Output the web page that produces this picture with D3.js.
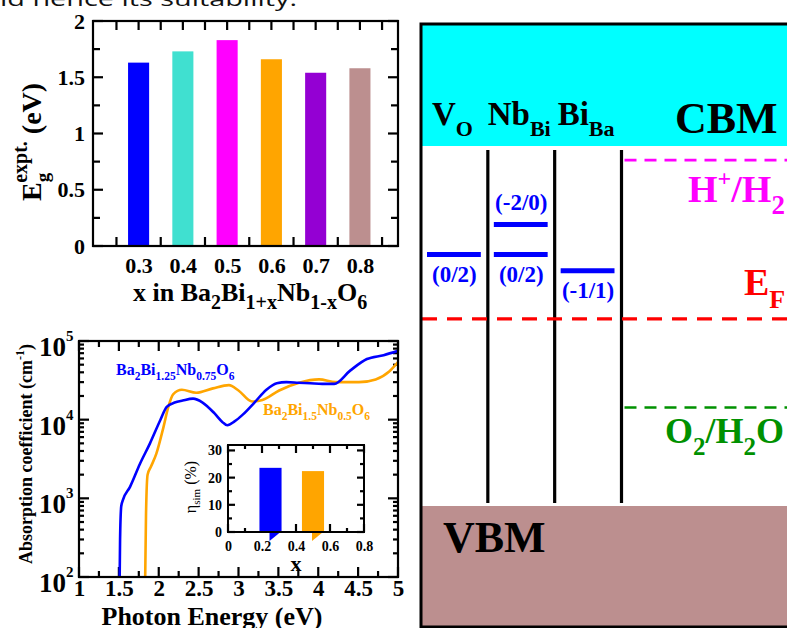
<!DOCTYPE html>
<html>
<head>
<meta charset="utf-8">
<script src="https://cdn.jsdelivr.net/npm/d3@7"></script>
<style>
  html, body { margin: 0; padding: 0; background: #fff; }
  svg { display: block; }
  text { font-family: "Liberation Serif", "DejaVu Serif", serif; font-weight: bold; }
</style>
</head>
<body>
<svg id="fig" width="787" height="628"></svg>
<script>
// ---------- data ----------
// Panel (a): experimental band gaps of Ba2Bi(1+x)Nb(1-x)O6
const barX = [0.3, 0.4, 0.5, 0.6, 0.7, 0.8];
const barEg = [1.63, 1.73, 1.83, 1.66, 1.54, 1.58];
const barColors = ["#0000ff", "#40e0d0", "#ff00ff", "#ffa500", "#9400d3", "#bc8f8f"];
const egTicks = [0, 0.5, 1, 1.5, 2];

// Panel (b): absorption spectra (photon energy in eV, alpha in cm^-1)
const energyBlue = [1.51, 1.515, 1.53, 1.55, 1.64, 1.765, 1.89, 2.02, 2.10, 2.20, 2.30, 2.43, 2.55, 2.70, 2.80, 2.86, 2.95, 3.05, 3.20, 3.35, 3.48, 3.60, 3.75, 3.90, 4.05, 4.20, 4.40, 4.61, 4.82, 5.00];
const alphaBlue  = [100, 300, 800, 950, 1400, 2750, 5000, 9900, 14500, 16500, 17500, 18500, 16500, 12000, 9300, 8500, 9500, 11500, 16500, 24000, 29000, 30000, 29500, 29000, 28500, 28500, 42000, 59000, 66000, 75000];
const energyOrange = [1.83, 1.84, 1.86, 1.90, 1.97, 2.06, 2.12, 2.18, 2.29, 2.47, 2.68, 2.88, 3.00, 3.17, 3.30, 3.51, 3.76, 4.01, 4.22, 4.51, 4.72, 4.89, 5.00];
const alphaOrange  = [100, 600, 2000, 2500, 3700, 8100, 14500, 21000, 24000, 22000, 25000, 27500, 23500, 17000, 17800, 23500, 29500, 32500, 30000, 30000, 32500, 41000, 54000];
const energyTicks = [1, 1.5, 2, 2.5, 3, 3.5, 4, 4.5, 5];
const alphaTicks = [1e2, 1e3, 1e4, 1e5];

// Inset: simulated efficiency
const insetX = [0.25, 0.5];
const insetEta = [23.6, 22.4];
const insetColors = ["#0000ff", "#ffa500"];
const insetXTicks = [0, 0.2, 0.4, 0.6, 0.8];
const insetYTicks = [0, 10, 20, 30];

// Panel (c): defect levels and redox potentials (eV above the VBM)
const bandGap = 1.79;
const fermiLevel = 0.93;
const defectNames = ["VO", "NbBi", "BiBa"];
const levelDefect = ["VO", "NbBi", "NbBi", "BiBa"];
const levelEnergy = [1.25, 1.40, 1.25, 1.17];
const levelCharge = ["(0/2)", "(-2/0)", "(0/2)", "(-1/1)"];
const levelLabelAbove = [false, true, false, false];
const redoxEnergy = [1.72, 0.49];

// ---------- helpers ----------
const svg = d3.select("#fig");

// writes a run of [text, kind, dx] parts into a text node; kind is "", "sub" or "sup"
function rich(sel, parts, fs, opts = {}) {
  const subFs = opts.subFs || fs * 0.65;
  const supFs = opts.supFs || fs * 0.65;
  const subShift = opts.subShift != null ? opts.subShift : fs * 0.3;
  const supShift = opts.supShift != null ? opts.supShift : -fs * 0.42;
  let cur = 0;
  parts.forEach(([t, k, dx]) => {
    const target = k === "sub" ? subShift : k === "sup" ? supShift : 0;
    const ts = sel.append("tspan")
      .attr("dy", target - cur)
      .attr("font-size", k === "sub" ? subFs : k === "sup" ? supFs : fs)
      .text(t);
    if (dx) ts.attr("dx", dx);
    cur = target;
  });
  return sel;
}

// inward tick marks along one side of a frame
function tickMarks(g, vals, scale, side, at, len) {
  g.append("g").selectAll("line").data(vals).join("line")
    .attr("x1", d => side === "left" || side === "right" ? at : scale(d))
    .attr("x2", d => side === "left" ? at + len : side === "right" ? at - len : scale(d))
    .attr("y1", d => side === "top" || side === "bottom" ? at : scale(d))
    .attr("y2", d => side === "top" ? at + len : side === "bottom" ? at - len : scale(d))
    .attr("stroke", "#000").attr("stroke-width", 2.2);
}

function styleLabels(s, fs) {
  s.select(".domain").remove();
  s.selectAll("text").attr("font-size", fs).attr("fill", "#000")
    .style("font-family", "Liberation Serif, serif").style("font-weight", "bold");
}

// ---------- cut-off line of running text ----------
svg.append("text")
  .attr("x", 0).attr("y", 6)
  .style("font-family", "'Open Sans', sans-serif").style("font-weight", "normal")
  .attr("font-size", 20).attr("fill", "#111")
  .attr("textLength", 297).attr("lengthAdjust", "spacingAndGlyphs")
  .text("ld hence its suitability.");

// ---------- panel (a): band gap bars ----------
const xBar = d3.scaleLinear().domain([0.197, 0.886]).range([93, 398]);
const yEg = d3.scaleLinear().domain([0, 2]).range([246, 21]);
const gA = svg.append("g");

const egMinor = [0.25, 0.75, 1.25, 1.75];
tickMarks(gA, egMinor, yEg, "left", 93, 7);
tickMarks(gA, egTicks, yEg, "left", 93, 10);
tickMarks(gA, egMinor, yEg, "right", 398, 7);
tickMarks(gA, egTicks, yEg, "right", 398, 10);
const xMinorA = [0.25, 0.35, 0.45, 0.55, 0.65, 0.75, 0.85];
tickMarks(gA, xMinorA, xBar, "top", 21, 9);
tickMarks(gA, barX, xBar, "top", 21, 9);
tickMarks(gA, xMinorA, xBar, "bottom", 246, 9);

const barHalf = (xBar(0.3 + 0.0238) - xBar(0.3));
gA.selectAll("rect.bar").data(barX).join("rect")
  .attr("class", "bar")
  .attr("x", d => xBar(d) - barHalf)
  .attr("width", barHalf * 2)
  .attr("y", (d, i) => yEg(barEg[i]))
  .attr("height", (d, i) => yEg(0) - yEg(barEg[i]))
  .attr("fill", (d, i) => barColors[i]);

gA.append("rect").attr("x", 93).attr("y", 21).attr("width", 305).attr("height", 225)
  .attr("fill", "none").attr("stroke", "#000").attr("stroke-width", 2.2);

gA.append("g").attr("transform", "translate(93,0)")
  .call(d3.axisLeft(yEg).tickValues(egTicks).tickSize(0).tickPadding(8).tickFormat(d3.format("~g")))
  .call(s => styleLabels(s, 22));

gA.append("g").attr("transform", "translate(0,246)")
  .call(d3.axisBottom(xBar).tickValues(barX).tickSize(0).tickPadding(11).tickFormat(d3.format(".1f")))
  .call(s => styleLabels(s, 22));

rich(gA.append("text").attr("x", 133).attr("y", 301),
  [["x in Ba", ""], ["2", "sub"], ["Bi", ""], ["1+x", "sub"], ["Nb", ""], ["1-x", "sub"], ["O", ""], ["6", "sub"]],
  26, { subFs: 20, subShift: 8 });

rich(gA.append("text").attr("transform", "translate(41,201) rotate(-90)"),
  [["E", ""], ["g", "sub"], ["expt.", "sup", -10], [" (eV)", ""]],
  28, { subFs: 19, supFs: 20, subShift: 8, supShift: -14 });

// ---------- panel (b): absorption coefficient ----------
const xE = d3.scaleLinear().domain([1, 5]).range([79, 398]);
const yA = d3.scaleLog().domain([1e2, 1e5]).range([577, 341]);
const gB = svg.append("g");

const minorAlpha = [];
[1e2, 1e3, 1e4].forEach(dec => d3.range(2, 10).forEach(m => minorAlpha.push(dec * m)));
tickMarks(gB, minorAlpha, yA, "left", 79, 5);
tickMarks(gB, alphaTicks, yA, "left", 79, 10);
tickMarks(gB, minorAlpha, yA, "right", 398, 5);
tickMarks(gB, alphaTicks, yA, "right", 398, 10);
const minorE = d3.range(1.25, 5, 0.5);
tickMarks(gB, minorE, xE, "bottom", 577, 6);
tickMarks(gB, energyTicks, xE, "bottom", 577, 10);
tickMarks(gB, minorE, xE, "top", 341, 6);
tickMarks(gB, energyTicks, xE, "top", 341, 10);

gB.append("clipPath").attr("id", "clipB")
  .append("rect").attr("x", 79).attr("y", 341).attr("width", 319).attr("height", 236);

const lineE = (es, as) => d3.line()
  .x((d, i) => xE(es[i])).y((d, i) => yA(as[i]))
  .curve(d3.curveMonotoneX)(es);

gB.append("path").attr("d", lineE(energyOrange, alphaOrange))
  .attr("fill", "none").attr("stroke", "#ffa500").attr("stroke-width", 2.6)
  .attr("clip-path", "url(#clipB)");
gB.append("path").attr("d", lineE(energyBlue, alphaBlue))
  .attr("fill", "none").attr("stroke", "#0000ff").attr("stroke-width", 2.6)
  .attr("clip-path", "url(#clipB)");

gB.append("rect").attr("x", 79).attr("y", 341).attr("width", 319).attr("height", 236)
  .attr("fill", "none").attr("stroke", "#000").attr("stroke-width", 2.2);

gB.append("g").attr("transform", "translate(0,577)")
  .call(d3.axisBottom(xE).tickValues(energyTicks).tickSize(0).tickPadding(3).tickFormat(d3.format("~g")))
  .call(s => styleLabels(s, 23));

alphaTicks.forEach(v => {
  rich(gB.append("text").attr("x", 39).attr("y", yA(v) + 15),
    [["10", ""], [String(Math.round(Math.log10(v))), "sup"]],
    27, { supFs: 15, supShift: -15 });
});

gB.append("text").attr("x", 212).attr("y", 625).attr("text-anchor", "middle")
  .attr("font-size", 26).text("Photon Energy (eV)");

rich(gB.append("text").attr("transform", "translate(32,454) rotate(-90)").attr("text-anchor", "middle"),
  [["Absorption coefficient (cm", ""], ["-1", "sup"], [")", ""]],
  18, { supFs: 12, supShift: -8 });

rich(gB.append("text").attr("x", 116).attr("y", 375).attr("fill", "#0000ff"),
  [["Ba", ""], ["2", "sub"], ["Bi", ""], ["1.25", "sub"], ["Nb", ""], ["0.75", "sub"], ["O", ""], ["6", "sub"]],
  16, { subFs: 11.5, subShift: 5 });
rich(gB.append("text").attr("x", 263).attr("y", 415).attr("fill", "#ffa500"),
  [["Ba", ""], ["2", "sub"], ["Bi", ""], ["1.5", "sub"], ["Nb", ""], ["0.5", "sub"], ["O", ""], ["6", "sub"]],
  16, { subFs: 11.5, subShift: 5 });

// ---------- inset: efficiency bars ----------
const xI = d3.scaleLinear().domain([0, 0.8]).range([228, 364]);
const yI = d3.scaleLinear().domain([0, 32]).range([532, 445]);
const gI = svg.append("g");

gI.append("rect").attr("x", 228).attr("y", 445).attr("width", 136).attr("height", 87).attr("fill", "#fff");
const etaMinor = [5, 15, 25];
const xMinorI = [0.1, 0.3, 0.5, 0.7];
tickMarks(gI, etaMinor, yI, "left", 228, 4);
tickMarks(gI, insetYTicks, yI, "left", 228, 7);
tickMarks(gI, etaMinor, yI, "right", 364, 4);
tickMarks(gI, insetYTicks, yI, "right", 364, 7);
tickMarks(gI, xMinorI, xI, "bottom", 532, 4);
tickMarks(gI, insetXTicks, xI, "bottom", 532, 8);
tickMarks(gI, xMinorI, xI, "top", 445, 4);
tickMarks(gI, insetXTicks, xI, "top", 445, 8);

const insetHalf = xI(0.065) - xI(0);
gI.selectAll("rect.ibar").data(insetX).join("rect")
  .attr("class", "ibar")
  .attr("x", d => xI(d) - insetHalf)
  .attr("width", insetHalf * 2)
  .attr("y", (d, i) => yI(insetEta[i]))
  .attr("height", (d, i) => yI(0) - yI(insetEta[i]))
  .attr("fill", (d, i) => insetColors[i]);
// small wedges hanging below each bar
gI.selectAll("path.wedge").data(insetX).join("path")
  .attr("class", "wedge")
  .attr("d", d => {
    const l = xI(d) - 1, r = xI(d) + insetHalf - 1, y0 = yI(0);
    return `M${l},${y0} L${r},${y0} L${l},${y0 + 9} Z`;
  })
  .attr("fill", (d, i) => insetColors[i]);

gI.append("rect").attr("x", 228).attr("y", 445).attr("width", 136).attr("height", 87)
  .attr("fill", "none").attr("stroke", "#000").attr("stroke-width", 2);

gI.append("g").attr("transform", "translate(228,0)")
  .call(d3.axisLeft(yI).tickValues(insetYTicks).tickSize(0).tickPadding(6))
  .call(s => styleLabels(s, 14));
gI.append("g").attr("transform", "translate(0,532)")
  .call(d3.axisBottom(xI).tickValues(insetXTicks).tickSize(0).tickPadding(9).tickFormat(d3.format("~g")))
  .call(s => styleLabels(s, 14));

rich(gI.append("text").attr("transform", "translate(196,487) rotate(-90)").attr("text-anchor", "middle")
  .style("font-weight", "normal"),
  [["η", ""], ["sim", "sub"], [" (%)", ""]], 16, { subFs: 11, subShift: 4 });
gI.append("text").attr("x", 296).attr("y", 571).attr("text-anchor", "middle")
  .attr("font-size", 22).text("x");

// ---------- panel (c): defect levels ----------
const yEn = d3.scaleLinear().domain([0, bandGap]).range([506, 146]);
const xDef = d3.scaleBand().domain(defectNames).range([421, 621.5]);
const gC = svg.append("g");
const right = 800;

gC.append("rect").attr("x", 421).attr("y", 24).attr("width", right - 421).attr("height", yEn(bandGap) - 24)
  .attr("fill", "#00ffff");
gC.append("rect").attr("x", 421).attr("y", yEn(0)).attr("width", right - 421).attr("height", 627 - yEn(0))
  .attr("fill", "#bc8f8f");

// separators between defect columns
const seps = defectNames.map(d => xDef(d) + xDef.bandwidth());
gC.selectAll("line.sep").data(seps).join("line")
  .attr("x1", d => d).attr("x2", d => d)
  .attr("y1", yEn(bandGap) + 4).attr("y2", yEn(0) - 3)
  .attr("stroke", "#000").attr("stroke-width", 3.2);

// Fermi level and redox potentials
gC.append("line").attr("x1", 422).attr("x2", right).attr("y1", yEn(fermiLevel)).attr("y2", yEn(fermiLevel))
  .attr("stroke", "#ff0000").attr("stroke-width", 3.2).attr("stroke-dasharray", "15,10");
const redoxColors = ["#ff00ff", "#009100"];
gC.selectAll("line.redox").data(redoxEnergy).join("line")
  .attr("x1", seps[2] + 3).attr("x2", right)
  .attr("y1", d => yEn(d)).attr("y2", d => yEn(d))
  .attr("stroke", (d, i) => redoxColors[i]).attr("stroke-width", 2.6)
  .attr("stroke-dasharray", "12,8");

// defect transition levels
gC.selectAll("line.level").data(levelEnergy).join("line")
  .attr("x1", (d, i) => xDef(levelDefect[i]) + 6)
  .attr("x2", (d, i) => xDef(levelDefect[i]) + xDef.bandwidth() - 7)
  .attr("y1", d => yEn(d)).attr("y2", d => yEn(d))
  .attr("stroke", "#0000ff").attr("stroke-width", 5);
gC.selectAll("text.charge").data(levelEnergy).join("text")
  .attr("x", (d, i) => xDef(levelDefect[i]) + xDef.bandwidth() / 2)
  .attr("y", (d, i) => levelLabelAbove[i] ? yEn(d) - 14 : yEn(d) + 27)
  .attr("text-anchor", "middle").attr("font-size", 23).attr("fill", "#0000ff")
  .text((d, i) => levelCharge[i]);

// frame
gC.append("path").attr("d", `M${right},24 L421,24 L421,627 L${right},627`)
  .attr("fill", "none").attr("stroke", "#000").attr("stroke-width", 3);

// column headers
const headers = {
  VO: [["V", ""], ["O", "sub"]],
  NbBi: [["Nb", ""], ["Bi", "sub"]],
  BiBa: [["Bi", ""], ["Ba", "sub"]]
};
defectNames.forEach(d => {
  rich(gC.append("text").attr("x", xDef(d) + xDef.bandwidth() / 2 - 2).attr("y", 125).attr("text-anchor", "middle"),
    headers[d], 33, { subFs: 22, subShift: 11 });
});

gC.append("text").attr("x", 675).attr("y", 133).attr("font-size", 44).text("CBM");
gC.append("text").attr("x", 443).attr("y", 552).attr("font-size", 44).text("VBM");
rich(gC.append("text").attr("x", 688).attr("y", 202).attr("fill", "#ff00ff"),
  [["H", ""], ["+", "sup"], ["/H", ""], ["2", "sub"]], 38, { supFs: 24, subFs: 27, supShift: -16, subShift: 12 });
rich(gC.append("text").attr("x", 744).attr("y", 295).attr("fill", "#ff0000"),
  [["E", ""], ["F", "sub"]], 38, { subFs: 26, subShift: 13 });
rich(gC.append("text").attr("x", 665).attr("y", 443).attr("fill", "#009100"),
  [["O", ""], ["2", "sub"], ["/H", ""], ["2", "sub"], ["O", ""]], 36, { subFs: 25, subShift: 12 });
</script>
</body>
</html>
